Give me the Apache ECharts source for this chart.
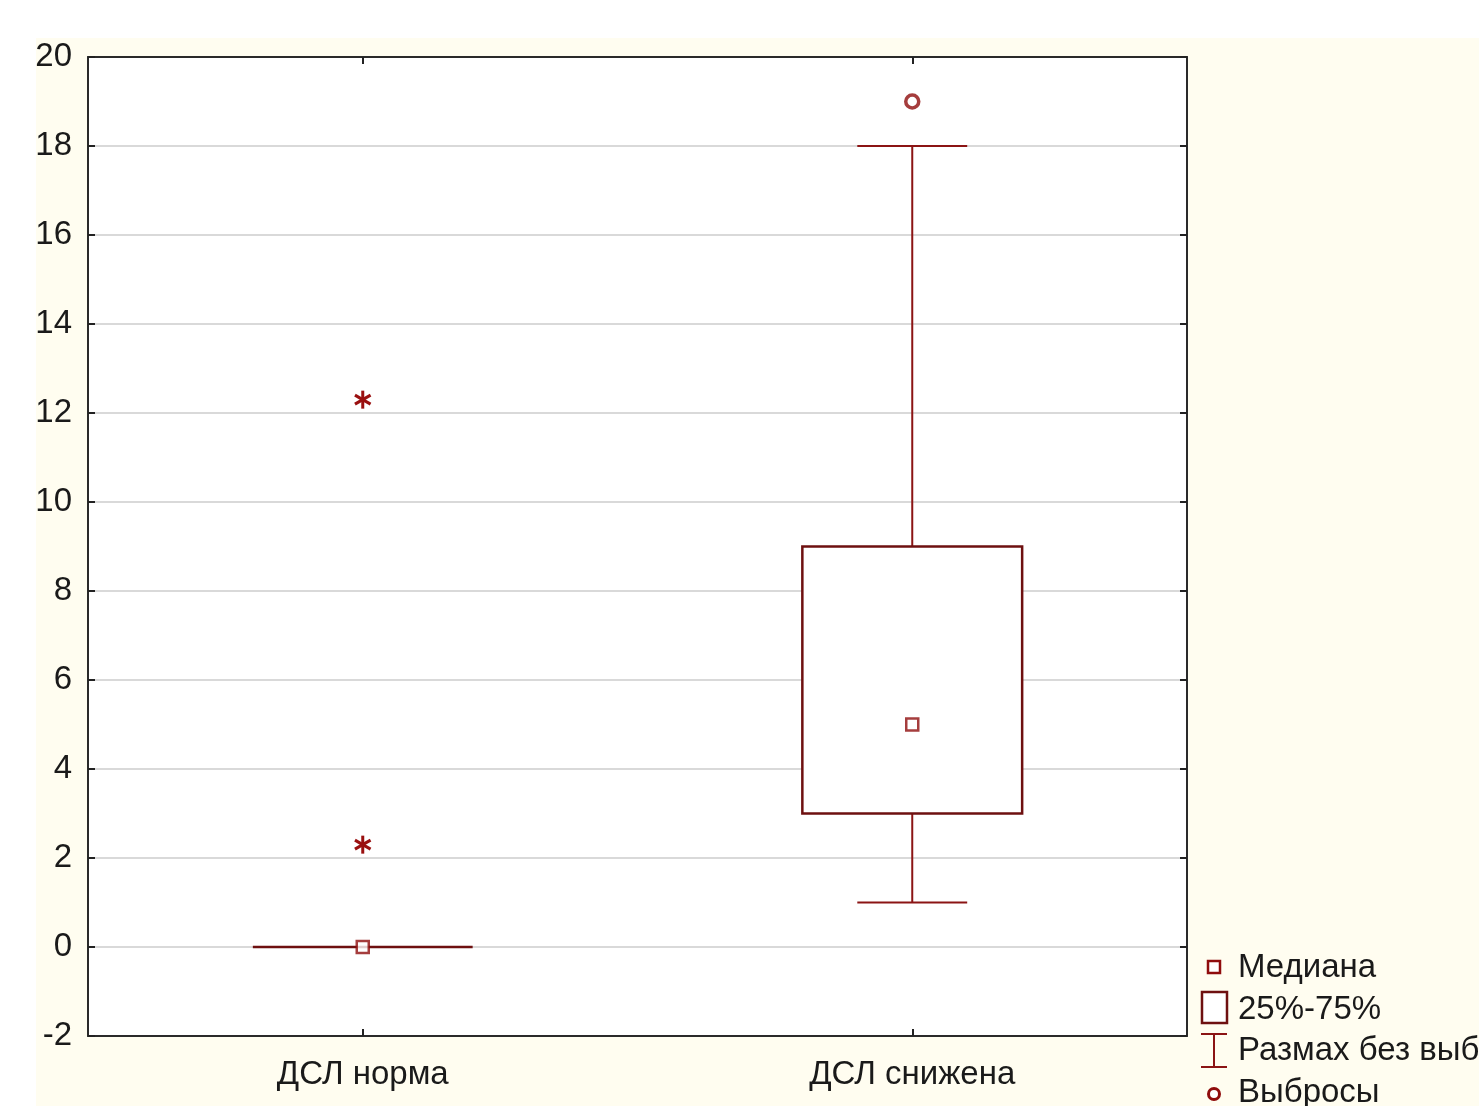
<!DOCTYPE html>
<html>
<head>
<meta charset="utf-8">
<script src="https://cdn.jsdelivr.net/npm/echarts@6/dist/echarts.min.js"></script>
<style>
html,body{margin:0;padding:0;background:#fff;width:1479px;height:1106px;overflow:hidden;}
#bg{position:absolute;left:36px;top:38px;right:0;bottom:0;background:#fffdf0;}
#c{position:absolute;left:0;top:0;width:1479px;height:1106px;}
</style>
</head>
<body>
<div id="bg"></div>
<div id="c"></div>
<script>
var categories = ['ДСЛ норма', 'ДСЛ снижена'];
var whiskerMin = [0, 1];
var q1 = [0, 3];
var median = [0, 5];
var q3 = [0, 9];
var whiskerMax = [0, 18];
var outliers = [[1, 19]];
var extremes = [[0, 12.3], [0, 2.3]];
var yMin = -2, yMax = 20, yStep = 2;
var legendLabels = ['Медиана', '25%-75%', 'Размах без выбросов', 'Выбросы'];

var lineColor = '#8b1414';
var boxColor = '#6e1010';
var markColor = '#8f0c0c';
var font = 'Liberation Sans, Arial, sans-serif';

var boxData = categories.map(function (c, i) {
  return [i, whiskerMin[i], q1[i], median[i], q3[i], whiskerMax[i]];
});
var medianData = categories.map(function (c, i) { return [i, median[i]]; });

var frameLine = {show: true, onZero: false, lineStyle: {color: '#2a2a2a', width: 2}};
var tickStyle = {color: '#222', width: 2};

var chart = echarts.init(document.getElementById('c'));
var option = {
  backgroundColor: 'transparent',
  animation: false,
  grid: {left: 88, top: 57, width: 1099, height: 979, show: true, backgroundColor: '#fff', borderWidth: 0},
  xAxis: [{
    type: 'category', data: categories, position: 'bottom',
    axisLine: frameLine,
    axisTick: {show: true, inside: true, alignWithLabel: true, length: 7, lineStyle: tickStyle},
    axisLabel: {fontFamily: font, fontSize: 33, color: '#1a1a1a', margin: 22},
    splitLine: {show: false}, z: 10
  }, {
    type: 'category', data: categories, position: 'top',
    axisLine: frameLine,
    axisTick: {show: true, inside: true, alignWithLabel: true, length: 7, lineStyle: tickStyle},
    axisLabel: {show: false},
    splitLine: {show: false}, z: 10
  }],
  yAxis: [{
    type: 'value', min: yMin, max: yMax, interval: yStep, position: 'left',
    axisLine: frameLine,
    axisTick: {show: true, inside: true, length: 7, lineStyle: tickStyle},
    axisLabel: {fontFamily: font, fontSize: 33, color: '#1a1a1a', margin: 16},
    splitLine: {show: true, lineStyle: {color: '#d9d9d9', width: 2}}, z: 10
  }, {
    type: 'value', min: yMin, max: yMax, interval: yStep, position: 'right',
    axisLine: frameLine,
    axisTick: {show: true, inside: true, length: 7, lineStyle: tickStyle},
    axisLabel: {show: false},
    splitLine: {show: false}, z: 10
  }],
  series: [{
    type: 'custom',
    data: boxData,
    encode: {x: 0, y: [1, 2, 4, 5]},
    renderItem: function (params, api) {
      var idx = api.value(0);
      var band = api.size([1, 0])[0];
      var bw = band * 0.4, cw = band * 0.2;
      var pMin = api.coord([idx, api.value(1)]);
      var pQ1 = api.coord([idx, api.value(2)]);
      var pQ3 = api.coord([idx, api.value(4)]);
      var pMax = api.coord([idx, api.value(5)]);
      var x = pMin[0];
      var ls = {stroke: lineColor, lineWidth: 2};
      return {type: 'group', children: [
        {type: 'line', shape: {x1: x, y1: pMax[1], x2: x, y2: pQ3[1]}, style: ls},
        {type: 'line', shape: {x1: x, y1: pQ1[1], x2: x, y2: pMin[1]}, style: ls},
        {type: 'line', shape: {x1: x - cw / 2, y1: pMax[1], x2: x + cw / 2, y2: pMax[1]}, style: ls},
        {type: 'line', shape: {x1: x - cw / 2, y1: pMin[1], x2: x + cw / 2, y2: pMin[1]}, style: ls},
        {type: 'rect', shape: {x: x - bw / 2, y: pQ3[1], width: bw, height: pQ1[1] - pQ3[1]},
          style: {fill: '#fff', stroke: boxColor, lineWidth: 2.5}}
      ]};
    },
    z: 20
  }, {
    type: 'scatter',
    data: medianData,
    symbol: 'rect', symbolSize: 12,
    itemStyle: {color: '#fff', borderColor: markColor, borderWidth: 2.5},
    z: 22
  }, {
    type: 'scatter',
    data: outliers,
    symbol: 'circle', symbolSize: 13,
    itemStyle: {color: '#fff', borderColor: markColor, borderWidth: 3.5},
    z: 22
  }, {
    type: 'custom',
    data: extremes,
    encode: {x: 0, y: 1},
    renderItem: function (params, api) {
      var p = api.coord([api.value(0), api.value(1)]);
      var r = 9, ch = [];
      [90, 30, -30].forEach(function (a) {
        var rad = a * Math.PI / 180;
        var dx = r * Math.cos(rad), dy = r * Math.sin(rad);
        ch.push({type: 'line', shape: {x1: p[0] - dx, y1: p[1] - dy, x2: p[0] + dx, y2: p[1] + dy},
          style: {stroke: '#9a1010', lineWidth: 3}});
      });
      return {type: 'group', children: ch};
    },
    z: 22
  }],
  graphic: [
    {type: 'rect', shape: {x: 1208, y: 961, width: 12, height: 12}, style: {fill: '#fff', stroke: markColor, lineWidth: 2.5}},
    {type: 'rect', shape: {x: 1202, y: 992, width: 25, height: 31}, style: {fill: '#fff', stroke: boxColor, lineWidth: 2.5}},
    {type: 'line', shape: {x1: 1201, y1: 1034, x2: 1227, y2: 1034}, style: {stroke: lineColor, lineWidth: 2}},
    {type: 'line', shape: {x1: 1201, y1: 1067, x2: 1227, y2: 1067}, style: {stroke: lineColor, lineWidth: 2}},
    {type: 'line', shape: {x1: 1214, y1: 1034, x2: 1214, y2: 1067}, style: {stroke: lineColor, lineWidth: 2}},
    {type: 'circle', shape: {cx: 1214, cy: 1094, r: 5.5}, style: {fill: '#fff', stroke: markColor, lineWidth: 3}},
    {type: 'text', x: 1238, y: 968, style: {text: legendLabels[0], font: '33px Liberation Sans, Arial, sans-serif', fill: '#1a1a1a', verticalAlign: 'middle'}},
    {type: 'text', x: 1238, y: 1010, style: {text: legendLabels[1], font: '33px Liberation Sans, Arial, sans-serif', fill: '#1a1a1a', verticalAlign: 'middle'}},
    {type: 'text', x: 1238, y: 1051, style: {text: legendLabels[2], font: '33px Liberation Sans, Arial, sans-serif', fill: '#1a1a1a', verticalAlign: 'middle'}},
    {type: 'text', x: 1238, y: 1093, style: {text: legendLabels[3], font: '33px Liberation Sans, Arial, sans-serif', fill: '#1a1a1a', verticalAlign: 'middle'}}
  ]
};
chart.setOption(option);
</script>
</body>
</html>
